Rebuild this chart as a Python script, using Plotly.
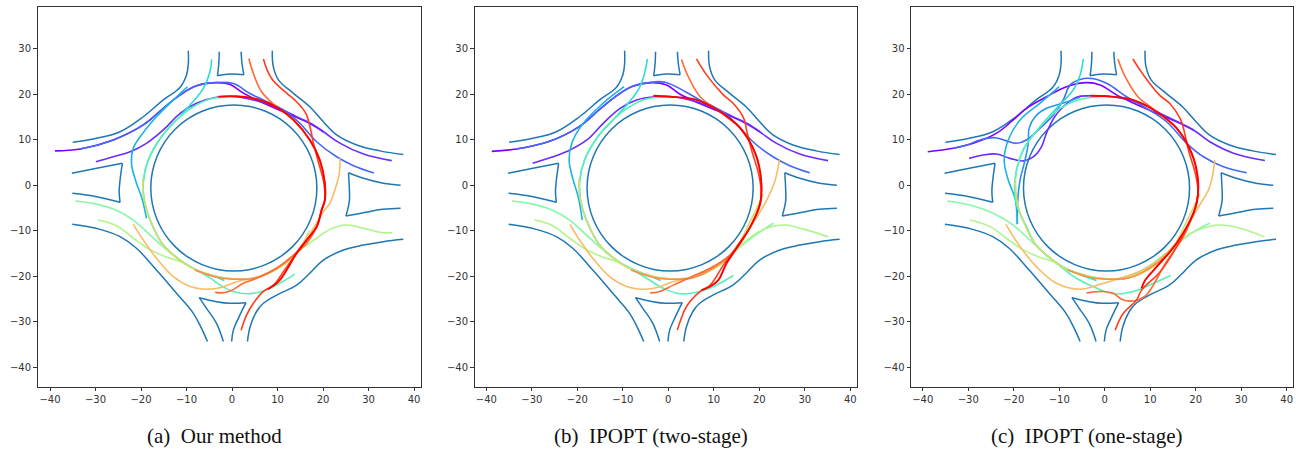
import plotly.graph_objects as go

TICKS_X = [-40, -30, -20, -10, 0, 10, 20, 30, 40]
TICKS_Y = [-40, -30, -20, -10, 0, 10, 20, 30]
CAPTIONS = ["(a)\u2002Our method", "(b)\u2002IPOPT (two-stage)", "(c)\u2002IPOPT (one-stage)"]
CAPTION_CENTERS = [215, 650.5, 1086]

# road boundaries (same in all panels); None separates pieces and sharp corners
road_x = [-35.0,-29.75,-24.6,-19.5,-15.1,-11.4,-10.0,-9.6,-9.6,None,
          -2.8,-2.9,-3.2,None,-3.2,-0.4,2.6,None,2.6,2.2,2.0,None,
          8.86,9.08,10.2,13.5,17.1,20.07,23.0,27.4,32.5,37.65,None,
          -35.2,-29.75,-24.1,None,-24.1,-24.6,-24.8,-24.6,None,-24.6,-29.75,-35.1,None,
          25.6,28.9,33.25,37.05,None,25.6,25.8,25.8,25.05,None,25.05,28.9,33.25,37.05,None,
          -35.1,-29.0,-24.6,-21.0,-16.6,-12.2,-8.5,-6.7,-5.4,None,
          -1.9,-3.4,-5.6,-7.2,None,-7.2,-3.4,-0.45,3.07,None,3.07,1.4,0.3,-0.08,None,
          3.4,4.0,5.4,6.9,9.8,14.2,17.1,20.07,24.5,28.9,33.25,37.65,None,
          18.65,18.30,17.26,15.57,13.30,10.54,7.38,3.96,0.40,-3.16,-6.58,-9.74,-12.50,-14.77,-16.46,-17.50,
          -17.85,-17.50,-16.46,-14.77,-12.50,-9.74,-6.58,-3.16,0.40,3.96,7.38,10.54,13.30,15.57,17.26,18.30,18.65]
road_y = [9.4,10.26,11.7,15.0,18.7,21.5,24.2,26.7,29.5,None,
          29.3,26.7,24.0,None,24.0,24.4,24.25,None,24.25,26.7,29.3,None,
          29.5,26.0,23.1,20.15,17.2,13.9,11.0,8.8,7.5,6.7,None,
          2.56,3.66,4.76,None,4.76,1.1,-1.5,-3.8,None,-3.8,-2.56,-1.83,None,
          2.7,1.47,0.37,-0.07,None,2.7,-1.1,-3.5,-6.8,None,-6.8,-6.08,-5.35,-5.13,None,
          -8.65,-9.75,-11.36,-13.9,-18.7,-23.8,-28.2,-31.5,-34.4,None,
          -34.4,-30.4,-27.1,-24.76,None,-24.76,-25.64,-26.0,-25.86,None,-25.86,-29.3,-31.9,-34.4,None,
          -34.4,-31.1,-27.8,-26.0,-24.2,-22.0,-19.4,-16.5,-14.3,-13.2,-12.45,-11.95,None,
          -0.65,2.91,6.33,9.49,12.25,14.52,16.21,17.25,17.60,17.25,16.21,14.52,12.25,9.49,6.33,2.91,
          -0.65,-4.21,-7.63,-10.79,-13.55,-15.82,-17.51,-18.55,-18.90,-18.55,-17.51,-15.82,-13.55,-10.79,-7.63,-4.21,-0.65]

# ---- panel (a)
purple_a_x = [-38.9,-33.4,-26.1,-19.5,-15.1,-11.4,-7.8,-3.4,-0.4,2.5,6.9,11.3,16.4,20.1]
purple_a_y = [7.5,7.9,9.9,13.2,16.85,19.8,21.8,22.5,22.1,20.2,18.0,16.1,13.9,11.7]
violet_a_x = [-29.9,-26.1,-22.4,-18.8,-15.1,-11.4,-7.8,-3.4,1.0,5.4,9.8,14.2,17.9,20.1,23.7,28.9,35.1]
violet_a_y = [5.13,6.2,7.3,9.16,12.1,15.75,17.95,19.27,19.4,18.5,17.1,15.0,13.2,11.7,9.2,6.8,5.35]
blue_a_x = [-33.4,-26.1,-19.5,-15.1,-11.4,-7.8,-3.4,0.3,3.95,6.9,11.3,14.9,18.6,23.0,26.7,31.2]
blue_a_y = [7.9,9.9,13.2,16.85,19.8,21.8,22.5,22.3,20.1,18.7,16.5,13.55,9.5,6.2,4.25,2.65]
cyan_a_x = [-9.8,-12.9,-16.6,-19.9,-21.7,-22.1,-21.1,-19.9,-19.5,-18.8]
cyan_a_y = [21.6,18.7,15.0,11.0,8.1,4.76,0.73,-2.6,-4.03,-7.3]
turq_a_x = [-4.47,-4.84,-6.3,-9.2,-12.2,-15.5,-18.4,-19.5,-19.3,-18.0,-15.1,-11.4,-7.8,-3.4,-1.7]
turq_a_y = [27.6,24.9,21.25,17.6,14.3,10.6,5.5,0.73,-3.3,-7.7,-13.2,-16.5,-18.7,-20.3,-21.0]
foam_a_x = [-1.2,-4.8,-8.5,-12.2,-15.5,-18.4,-19.5,-19.3,-18.0,-15.1,-11.4,-7.8,-5.0,-2.6,0.3,3.2,6.9,10.5,13.8]
foam_a_y = [19.3,18.9,17.2,14.3,10.6,5.5,0.73,-3.3,-7.7,-13.2,-16.5,-18.7,-20.3,-22.0,-23.4,-23.9,-23.3,-21.6,-19.6]
mint_a_x = [-34.4,-29.75,-25.3,-21.7,-18.0,-15.1,-11.4,-7.8,-1.2,5.4,11.3,14.9,17.0]
mint_a_y = [-3.5,-4.2,-5.6,-7.7,-11.0,-13.6,-16.6,-18.7,-20.5,-20.3,-17.6,-14.3,-12.8]
lime_a_x = [-29.5,-25.3,-21.7,-18.0,-14.5,-11.4,-7.8,-1.2,5.4,11.3,14.9,18.6,21.5,25.2,28.9,32.5,35.2]
lime_a_y = [-7.7,-9.0,-11.7,-14.2,-15.8,-16.8,-18.7,-20.5,-20.3,-17.6,-14.3,-11.7,-9.75,-8.8,-9.5,-10.4,-10.5]
olive_a_x = [-19.6,-19.3,-18.0,-15.1,-11.4,-7.8,-1.2,5.4,11.3,14.2,17.0]
olive_a_y = [1.5,-3.3,-7.7,-13.2,-16.5,-18.7,-20.5,-20.3,-17.6,-15.0,-10.0]
amber_a_x = [23.7,23.6,22.6,21.5,20.07,17.9,14.2,9.8,5.4,1.0,-2.6,-5.6,-9.2,-12.9,-16.6,-19.5,-21.7]
amber_a_y = [5.86,2.6,-1.1,-4.0,-5.9,-9.5,-15.0,-18.3,-20.3,-21.25,-22.6,-22.9,-22.3,-20.15,-16.1,-12.1,-8.65]
orange_a_x = [-8.2,-4.0,-1.2,5.4,9.8,13.5,15.5]
orange_a_y = [-18.7,-20.1,-20.6,-20.4,-18.3,-15.5,-13.0]
coral_a_x = [3.7,4.7,6.5,9.8,13.5,17.1,19.3,20.4,20.4,19.7,18.6,16.4,13.5,9.8,5.4,2.5,-0.4,-2.3,-3.7]
coral_a_y = [27.8,24.5,20.5,17.2,14.3,9.9,5.5,0.4,-3.3,-5.5,-9.2,-12.8,-15.4,-18.3,-20.5,-21.6,-23.3,-23.7,-23.6]
scarlet_a_x = [6.9,8.7,12.0,14.2,16.2,17.1,17.9,19.0,20.2,20.4,19.7,18.6,16.4,14.2,11.6,9.1,6.9,4.7,3.2,2.0]
scarlet_a_y = [27.7,23.4,20.2,18.3,15.8,13.0,9.2,5.0,0.4,-3.3,-5.5,-9.2,-12.1,-15.0,-18.6,-22.0,-23.4,-26.0,-28.6,-31.9]
red_a_x = [-3.0,1.0,5.4,9.8,13.5,17.1,19.3,20.4,20.4,19.7,18.6,16.4,14.2,12.0,10.2,7.9]
red_a_y = [19.4,19.5,18.9,17.1,14.3,9.9,5.5,0.4,-3.3,-5.5,-9.2,-12.1,-15.0,-18.7,-21.25,-22.9]

# ---- panel (b)
purple_b_x = [-38.8,-33.4,-26.1,-19.5,-15.1,-11.4,-7.8,-3.65,-0.4,2.5,6.9,11.3,16.4,20.1]
purple_b_y = [7.4,7.9,9.6,12.9,16.6,19.6,21.7,22.5,22.0,20.0,17.9,16.1,13.9,11.7]
violet_b_x = [-29.8,-25.3,-21.6,-17.9,-14.3,-10.6,-6.95,-2.6,1.0,5.4,9.8,14.2,17.9,20.1,23.7,28.9,35.1]
violet_b_y = [4.8,6.2,7.7,9.9,13.55,16.85,18.7,19.4,19.4,18.5,17.1,15.0,13.2,11.7,9.2,6.8,5.35]
blue_b_x = [-33.4,-26.1,-19.5,-15.1,-11.4,-7.8,-3.4,-0.7,3.95,6.9,11.3,14.9,18.6,23.0,26.7,31.1]
blue_b_y = [7.9,9.6,12.9,16.6,19.6,21.7,22.6,22.6,20.4,18.7,16.5,13.55,9.5,6.2,4.25,2.7]
cyan_b_x = [-9.7,-14.3,-18.7,-21.2,-21.8,-20.9,-19.8,-18.9]
cyan_b_y = [21.6,18.0,13.55,9.2,5.5,1.1,-2.6,-7.7]
turq_b_x = [-4.6,-5.3,-6.6,-9.5,-12.2,-15.5,-18.4,-19.5,-19.3,-18.0,-15.1,-11.4,-8.4,-3.4,-1.7]
turq_b_y = [27.7,24.2,20.9,17.2,14.3,10.6,5.5,0.73,-3.3,-7.7,-13.2,-16.5,-18.3,-20.2,-21.0]
foam_b_x = [-1.2,-4.8,-8.5,-12.2,-15.5,-18.4,-19.5,-19.3,-18.0,-15.1,-11.4,-8.4,-4.75,-1.1,2.6,7.0,10.6,14.3]
foam_b_y = [19.3,18.9,17.2,14.3,10.6,5.5,0.73,-3.3,-7.7,-13.2,-16.5,-18.3,-20.5,-22.7,-23.9,-23.4,-22.0,-19.9]
mint_b_x = [-34.4,-29.75,-25.3,-21.7,-18.0,-15.1,-11.4,-7.8,-1.2,5.4,11.3,14.9,18.6,23.1]
mint_b_y = [-3.5,-4.2,-5.6,-7.7,-11.0,-13.6,-16.6,-18.7,-20.5,-20.3,-17.6,-14.3,-11.4,-8.4]
lime_b_x = [-29.4,-25.3,-21.7,-18.0,-14.5,-11.4,-7.8,-1.2,5.4,11.3,14.9,18.7,22.4,25.7,29.7,35.2]
lime_b_y = [-7.7,-9.0,-11.7,-14.2,-15.8,-16.8,-18.7,-20.5,-20.3,-17.6,-14.3,-11.0,-9.2,-8.8,-9.7,-11.4]
olive_b_x = [-19.6,-19.3,-18.0,-15.1,-11.4,-7.8,-1.2,5.4,11.3,14.2,18.0,20.9]
olive_b_y = [1.5,-3.3,-7.7,-13.2,-16.5,-18.7,-20.5,-20.3,-17.6,-15.0,-8.0,-2.0]
amber_b_x = [24.4,23.5,22.0,20.2,17.9,14.2,9.8,5.4,1.0,-2.6,-5.5,-9.2,-12.9,-16.6,-19.5,-21.6]
amber_b_y = [5.5,1.1,-2.6,-5.85,-9.5,-15.0,-18.3,-20.3,-21.25,-22.6,-22.9,-22.3,-20.15,-16.1,-12.1,-8.65]
orange_b_x = [-8.2,-4.0,-1.2,5.4,9.8,13.5,15.5]
orange_b_y = [-18.7,-20.1,-20.6,-20.4,-18.3,-15.5,-13.0]
coral_b_x = [2.9,4.4,7.0,10.3,13.5,15.8,19.1,20.4,20.2,18.0,15.0,13.6,9.2,4.8,1.1,-1.8,-4.0]
coral_b_y = [27.6,23.8,19.4,16.85,14.4,12.5,7.0,1.1,-4.0,-9.2,-13.9,-15.4,-18.3,-20.3,-22.0,-23.4,-23.7]
scarlet_b_x = [6.2,8.4,12.1,14.3,16.6,17.2,18.3,19.8,20.4,20.2,18.0,15.0,12.1,9.2,7.0,4.0,2.6,2.0]
scarlet_b_y = [27.7,24.2,19.8,17.9,14.6,12.1,7.7,2.6,-1.1,-4.0,-9.2,-13.6,-17.6,-22.0,-23.4,-26.7,-30.0,-31.9]
red_b_x = [-3.3,0.4,6.2,11.4,15.8,19.1,20.4,20.2,18.0,15.0,12.8,11.0,9.2,7.3]
red_b_y = [19.6,19.4,18.7,16.1,12.5,7.0,1.1,-4.0,-9.2,-13.9,-17.2,-20.9,-22.3,-23.1]

# ---- panel (c)
purple_c_x = [-38.9,-33.3,-28.9,-23.75,-20.1,-17.2,-12.8,-8.4,-4.0,-1.0,2.6,6.3,11.4,15.8,19.5]
purple_c_y = [7.3,8.06,9.16,11.4,14.3,16.85,19.4,21.6,22.5,22.0,19.8,18.0,15.75,13.9,12.1]
violet_c_x = [-29.8,-26.7,-23.75,-20.8,-17.9,-15.7,-13.9,-12.8,-11.0,-9.1,-6.2,-3.2,1.9,7.7,12.9,19.5,23.1,28.3,35.2]
violet_c_y = [5.85,6.6,6.8,5.85,5.3,6.2,8.4,11.4,15.0,17.2,19.3,19.6,19.4,18.0,15.4,12.1,9.5,7.0,5.4]
blue_c_x = [-33.3,-30.3,-27.4,-24.1,-21.6,-19.4,-17.2,-14.2,-11.3,-9.1,-7.6,-5.4,-2.9,0.4,4.8,9.2,13.6,18.0,21.7,26.1,31.2]
blue_c_y = [8.06,8.8,9.9,10.4,9.7,9.16,9.9,12.5,15.4,18.7,22.0,23.2,23.4,22.35,19.4,16.85,13.9,9.16,6.2,4.0,2.7]
azure_c_x = [-5.4,-9.1,-12.8,-15.3,-16.6,-16.8,-17.5,-18.6,-19.1,-19.2]
azure_c_y = [19.3,18.0,16.85,15.0,12.5,9.16,5.5,1.1,-3.3,-8.6]
cyan_c_x = [-10.0,-14.2,-18.6,-21.2,-22.1,-21.2,-19.7,-19.2]
cyan_c_y = [21.6,18.0,14.3,9.9,5.5,1.1,-3.0,-8.6]
turq_c_x = [-4.7,-5.4,-6.9,-9.5,-14.2,-17.9,-19.7,-19.4,-17.2,-15.1,-11.4,-7.8,-1.8]
turq_c_y = [27.7,24.2,20.9,18.0,12.8,7.7,1.1,-4.0,-9.2,-13.2,-16.5,-18.7,-21.0]
teal_c_x = [-7.8,-3.4,0.5,4.45]
teal_c_y = [-18.7,-20.3,-20.6,-20.7]
foam_c_x = [-1.0,-5.4,-9.8,-14.2,-17.9,-19.7,-19.4,-17.2,-15.1,-11.4,-6.2,-2.5,1.9,6.3,10.7,14.5]
foam_c_y = [19.4,18.8,16.85,12.8,7.7,1.1,-4.0,-9.2,-13.2,-16.5,-20.5,-22.35,-23.9,-23.4,-21.6,-19.9]
mint_c_x = [-34.6,-29.6,-24.5,-20.1,-15.7,-11.4,-7.8,-1.0,4.8,10.0,14.3,19.5,23.1]
mint_c_y = [-3.5,-4.4,-6.2,-8.8,-12.8,-16.6,-18.7,-20.5,-20.3,-17.6,-14.3,-10.3,-8.4]
lime_c_x = [-29.6,-25.2,-21.6,-18.0,-14.5,-11.4,-7.8,-1.0,5.4,11.3,14.9,17.3,20.9,25.3,29.7,35.1]
lime_c_y = [-7.7,-9.15,-11.7,-14.2,-15.8,-16.8,-18.7,-20.5,-20.3,-17.6,-14.3,-11.7,-9.75,-8.8,-9.5,-11.4]
olive_c_x = [-19.6,-19.3,-18.0,-15.1,-11.4,-7.8,-1.2,5.4,11.3,14.2,18.0,20.9]
olive_c_y = [1.5,-3.3,-7.7,-13.2,-16.5,-18.7,-20.5,-20.3,-17.6,-15.0,-8.0,-2.0]
amber_c_x = [24.2,23.5,22.8,20.2,17.3,13.6,9.2,3.4,-1.0,-5.4,-10.6,-15.0,-18.6,-21.7]
amber_c_y = [5.5,1.1,-1.1,-5.5,-10.6,-15.0,-18.3,-20.5,-21.8,-22.9,-21.6,-17.95,-13.55,-8.65]
orange_c_x = [-8.2,-4.0,-1.2,5.4,9.8,13.5,15.5]
orange_c_y = [-18.7,-20.1,-20.6,-20.4,-18.3,-15.5,-13.0]
coral_c_x = [2.9,4.5,7.3,10.5,13.5,15.8,19.1,20.5,20.3,19.5,17.3,15.1,12.9,10.7,8.8,6.3,3.7,1.9,-0.3,-4.0]
coral_c_y = [27.7,23.8,19.4,16.85,14.4,12.5,7.0,1.1,-3.5,-6.2,-11.35,-14.65,-17.95,-22.0,-24.5,-25.5,-25.1,-23.8,-23.4,-23.7]
scarlet_c_x = [6.2,8.5,12.0,14.3,16.6,17.4,18.4,19.9,20.5,20.3,19.5,15.8,12.2,8.1,7.0,4.1,2.3]
scarlet_c_y = [27.7,24.2,19.8,17.9,14.6,12.1,7.7,2.6,-1.0,-3.5,-6.2,-13.6,-19.05,-23.1,-25.3,-28.2,-31.9]
red_c_x = [-3.2,0.4,6.2,11.4,15.8,19.1,20.5,20.3,19.5,15.8,11.4,8.9,8.1]
red_c_y = [19.6,19.5,18.7,16.1,12.5,7.0,1.1,-3.5,-6.2,-12.8,-18.0,-20.9,-22.7]

PALETTE = {"purple": "#8000ff", "violet": "#6a2cff", "blue": "#4268fa", "azure": "#2a96ec",
           "cyan": "#1cb4e8", "turq": "#2cdcd8", "teal": "#40e8cc", "foam": "#58f2b8",
           "mint": "#88f7a6", "lime": "#b0f58c", "olive": "#d8dc70", "amber": "#f8bc66",
           "orange": "#fc8c45", "coral": "#ff6a35", "scarlet": "#ff3d1f", "red": "#ff0000"}

PANELS = [
    [("purple", purple_a_x, purple_a_y), ("violet", violet_a_x, violet_a_y), ("blue", blue_a_x, blue_a_y),
     ("cyan", cyan_a_x, cyan_a_y), ("turq", turq_a_x, turq_a_y), ("foam", foam_a_x, foam_a_y),
     ("mint", mint_a_x, mint_a_y), ("lime", lime_a_x, lime_a_y), ("olive", olive_a_x, olive_a_y),
     ("amber", amber_a_x, amber_a_y), ("orange", orange_a_x, orange_a_y), ("coral", coral_a_x, coral_a_y),
     ("scarlet", scarlet_a_x, scarlet_a_y), ("red", red_a_x, red_a_y)],
    [("purple", purple_b_x, purple_b_y), ("violet", violet_b_x, violet_b_y), ("blue", blue_b_x, blue_b_y),
     ("cyan", cyan_b_x, cyan_b_y), ("turq", turq_b_x, turq_b_y), ("foam", foam_b_x, foam_b_y),
     ("mint", mint_b_x, mint_b_y), ("lime", lime_b_x, lime_b_y), ("olive", olive_b_x, olive_b_y),
     ("amber", amber_b_x, amber_b_y), ("orange", orange_b_x, orange_b_y), ("coral", coral_b_x, coral_b_y),
     ("scarlet", scarlet_b_x, scarlet_b_y), ("red", red_b_x, red_b_y)],
    [("purple", purple_c_x, purple_c_y), ("violet", violet_c_x, violet_c_y), ("blue", blue_c_x, blue_c_y),
     ("azure", azure_c_x, azure_c_y), ("cyan", cyan_c_x, cyan_c_y), ("turq", turq_c_x, turq_c_y),
     ("teal", teal_c_x, teal_c_y), ("foam", foam_c_x, foam_c_y), ("mint", mint_c_x, mint_c_y),
     ("lime", lime_c_x, lime_c_y), ("olive", olive_c_x, olive_c_y), ("amber", amber_c_x, amber_c_y),
     ("orange", orange_c_x, orange_c_y), ("coral", coral_c_x, coral_c_y),
     ("scarlet", scarlet_c_x, scarlet_c_y), ("red", red_c_x, red_c_y)],
]

W, H = 1296, 449
BOXES = [(37.5, 420.5), (474.5, 857), (911, 1293)]
ZEROS = [232, 668.3, 1104.7]
TOP, BOTTOM, ZERO_Y, SCALE = 6.5, 386.5, 185, 4.55

fig = go.Figure()
layout = dict(width=W, height=H, margin=dict(l=0, r=0, t=0, b=0), autosize=False,
              paper_bgcolor="white", plot_bgcolor="white", showlegend=False,
              font=dict(family="DejaVu Sans", size=10, color="#333333"))
annotations = []
for i, traces in enumerate(PANELS):
    n = "" if i == 0 else str(i + 1)
    xa, ya = "x" + n, "y" + n
    fig.add_trace(go.Scatter(x=road_x, y=road_y, mode="lines", xaxis=xa, yaxis=ya, hoverinfo="skip",
                             line=dict(color="#1f77b4", width=1.5, shape="spline", smoothing=1.1)))
    for name, tx, ty in traces:
        fig.add_trace(go.Scatter(x=tx, y=ty, mode="lines", xaxis=xa, yaxis=ya, name=name,
                                 line=dict(color=PALETTE[name], width=1.9 if name == "red" else 1.6,
                                           shape="spline", smoothing=1.1)))
    l, r = BOXES[i]
    z = ZEROS[i]
    common = dict(showline=True, mirror=True, linecolor="#333333", linewidth=1, showgrid=False, zeroline=False,
                  ticks="outside", ticklen=3.5, tickwidth=1, tickcolor="#333333", tickfont=dict(size=10, color="#333333"))
    layout["xaxis" + n] = dict(domain=[l / W, r / W], anchor=ya, range=[(l - z) / SCALE, (r - z) / SCALE],
                               tickvals=TICKS_X, **common)
    layout["yaxis" + n] = dict(domain=[1 - BOTTOM / H, 1 - TOP / H], anchor=xa,
                               range=[(ZERO_Y - BOTTOM) / SCALE, (ZERO_Y - TOP) / SCALE], tickvals=TICKS_Y, **common)
    annotations.append(dict(text=CAPTIONS[i], x=CAPTION_CENTERS[i] / W, y=1 - 436 / H,
                            xref="paper", yref="paper", showarrow=False, xanchor="center", yanchor="middle",
                            font=dict(family="Liberation Serif", size=21, color="#111111")))
layout["annotations"] = annotations
fig.update_layout(**layout)
fig.write_html("out.html", post_script="document.body.style.margin='0';", config={"displayModeBar": False})
